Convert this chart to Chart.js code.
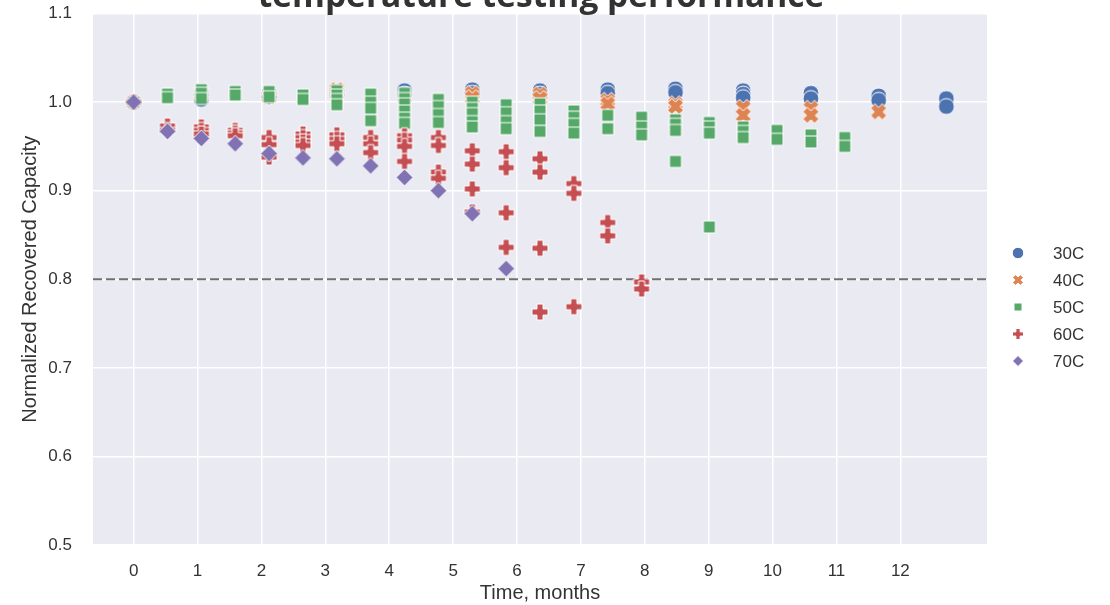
<!DOCTYPE html>
<html>
<head>
<meta charset="utf-8">
<script src="https://cdn.jsdelivr.net/npm/chart.js@4.4.1/dist/chart.umd.min.js"></script>
<style>
  html, body { margin: 0; padding: 0; background: #fff; width: 1110px; height: 605px; overflow: hidden; }
  #wrap { position: relative; width: 1110px; height: 605px; }
  #chart { position: absolute; left: 0; top: 0; }
  #title {
    position: absolute; left: 0; top: -22px; width: 1082px;
    text-align: center; white-space: nowrap;
    font: 700 33.5px 'Open Sans', sans-serif; line-height: 33.5px; color: #333;
  }
</style>
</head>
<body>
<div id="wrap">
  <canvas id="chart" width="1110" height="605"></canvas>
  <div id="title">temperature testing performance</div>
</div>
<script>
// ══════════════════════════════════════════
// Normalized recovered capacity vs time, per test temperature
// ══════════════════════════════════════════

const SERIES_LABELS = ['30C', '40C', '50C', '60C', '70C'];
const X_TICKS = [0, 1, 2, 3, 4, 5, 6, 7, 8, 9, 10, 11, 12];
const Y_TICKS = [0.5, 0.6, 0.7, 0.8, 0.9, 1.0, 1.1];
const THRESHOLD = 0.8;

// 30C
const T30 = [0, 1.06, 1.06, 2.12, 2.12, 3.18, 3.18, 4.24, 4.24, 5.30, 5.30, 6.36, 6.36, 7.42, 7.42,
             8.48, 8.48, 9.54, 9.54, 9.54, 10.60, 10.60, 11.66, 11.66, 12.72, 12.72];
const V30 = [1.000, 1.008, 1.003, 1.010, 1.006, 1.012, 1.008, 1.013, 1.009, 1.014, 1.010, 1.013, 1.009, 1.014, 1.010,
             1.015, 1.011, 1.013, 1.009, 1.005, 1.010, 1.004, 1.007, 1.002, 1.004, 0.995];

// 40C
const T40 = [0, 1.06, 2.12, 3.18, 3.18, 4.24, 5.30, 5.30, 6.36, 6.36, 7.42, 7.42,
             8.48, 8.48, 9.54, 9.54, 10.60, 10.60, 11.66];
const V40 = [1.000, 1.008, 1.006, 1.014, 1.010, 1.006, 1.010, 1.005, 1.009, 1.004, 1.002, 0.998,
             0.998, 0.995, 0.994, 0.985, 0.993, 0.985, 0.989];

// 50C
const T50 = [0, 0.53, 0.53, 1.06, 1.06, 1.06, 1.59, 1.59, 2.12, 2.12, 2.65, 2.65,
             3.18, 3.18, 3.18, 3.18, 3.71, 3.71, 3.71, 3.71,
             4.24, 4.24, 4.24, 4.24, 4.24, 4.24, 4.77, 4.77, 4.77, 4.77,
             5.30, 5.30, 5.30, 5.30, 5.30, 5.83, 5.83, 5.83, 5.83,
             6.36, 6.36, 6.36, 6.36, 6.89, 6.89, 6.89, 6.89,
             7.42, 7.42, 7.95, 7.95, 7.95, 8.48, 8.48, 8.48, 8.48,
             9.01, 9.01, 9.01, 9.01, 9.54, 9.54, 9.54, 10.07, 10.07, 10.60, 10.60, 11.13, 11.13];
const V50 = [1.000, 1.009, 1.005, 1.014, 1.010, 1.004, 1.012, 1.008, 1.012, 1.006, 1.008, 1.003,
             1.013, 1.008, 1.003, 0.997, 1.009, 1.000, 0.993, 0.979,
             1.010, 1.004, 0.998, 0.990, 0.982, 0.976, 1.003, 0.995, 0.986, 0.977,
             1.000, 0.993, 0.987, 0.978, 0.972, 0.997, 0.988, 0.978, 0.970,
             0.998, 0.990, 0.980, 0.967, 0.990, 0.983, 0.975, 0.965,
             0.985, 0.970, 0.983, 0.972, 0.963, 0.980, 0.975, 0.968, 0.933,
             0.977, 0.972, 0.965, 0.859, 0.972, 0.967, 0.960, 0.968, 0.958, 0.963, 0.955, 0.960, 0.950];

// 60C
const T60 = [0, 0.53, 0.53, 1.06, 1.06, 1.06, 1.59, 1.59, 1.59, 2.12, 2.12, 2.12,
             2.65, 2.65, 2.65, 2.65, 3.18, 3.18, 3.18, 3.71, 3.71, 3.71,
             4.24, 4.24, 4.24, 4.24, 4.77, 4.77, 4.77, 4.77,
             5.30, 5.30, 5.30, 5.30, 5.83, 5.83, 5.83, 5.83, 6.36, 6.36, 6.36, 6.36,
             6.89, 6.89, 6.89, 7.42, 7.42, 7.95, 7.95];
const V60 = [1.000, 0.973, 0.968, 0.972, 0.968, 0.964, 0.968, 0.965, 0.962, 0.960, 0.952, 0.938,
             0.964, 0.960, 0.955, 0.951, 0.963, 0.958, 0.953, 0.960, 0.953, 0.943,
             0.962, 0.957, 0.950, 0.933, 0.960, 0.951, 0.921, 0.914,
             0.945, 0.930, 0.902, 0.876, 0.944, 0.926, 0.875, 0.836, 0.936, 0.921, 0.835, 0.763,
             0.908, 0.897, 0.769, 0.864, 0.849, 0.797, 0.789];

// 70C
const T70 = [0, 0.53, 1.06, 1.59, 2.12, 2.65, 3.18, 3.71, 4.24, 4.77, 5.30, 5.83];
const V70 = [1.000, 0.967, 0.959, 0.953, 0.942, 0.937, 0.936, 0.928, 0.915, 0.900, 0.874, 0.812];

// seaborn "deep" palette
const COLORS = ['#4C72B0', '#DD8452', '#55A868', '#C44E52', '#8172B3'];
const SHAPES = ['circle', 'x', 'square', 'plus', 'diamond'];
const PLOT_SIZES = [16, 16.5, 12, 16, 17];
const LEGEND_SIZES = [11.5, 11, 8, 11, 11];

const FONT = "'Liberation Sans', Arial, sans-serif";
const TEXT = '#333333';

// ── marker drawing (filled, white edge like seaborn) ──
function markerPath(ctx, shape, s) {
    const h = s / 2;
    ctx.beginPath();
    if (shape === 'circle') {
        ctx.arc(0, 0, h, 0, Math.PI * 2);
    } else if (shape === 'square') {
        ctx.rect(-h, -h, s, s);
    } else if (shape === 'diamond') {
        ctx.moveTo(0, -h); ctx.lineTo(h, 0); ctx.lineTo(0, h); ctx.lineTo(-h, 0); ctx.closePath();
    } else {
        const t = s * 0.19;
        const pts = [[-t, -h], [t, -h], [t, -t], [h, -t], [h, t], [t, t], [t, h], [-t, h], [-t, t], [-h, t], [-h, -t], [-t, -t]];
        const a = shape === 'x' ? Math.PI / 4 : 0;
        pts.forEach(([px, py], i) => {
            const rx = px * Math.cos(a) - py * Math.sin(a);
            const ry = px * Math.sin(a) + py * Math.cos(a);
            if (i) ctx.lineTo(rx, ry); else ctx.moveTo(rx, ry);
        });
        ctx.closePath();
    }
}

function drawMarker(ctx, shape, x, y, s, color) {
    ctx.save();
    ctx.translate(x, y);
    markerPath(ctx, shape, s);
    ctx.fillStyle = color;
    ctx.fill();
    ctx.lineWidth = 1;
    ctx.strokeStyle = '#ffffff';
    ctx.stroke();
    ctx.restore();
}

function markerImage(shape, s, color) {
    const c = document.createElement('canvas');
    const n = Math.ceil(s + 4);
    c.width = n; c.height = n;
    drawMarker(c.getContext('2d'), shape, n / 2, n / 2, s, color);
    return c;
}

const zip = (xs, ys) => xs.map((x, i) => ({ x, y: ys[i] }));
const SERIES = [[T30, V30], [T40, V40], [T50, V50], [T60, V60], [T70, V70]];

const datasets = SERIES.map(([xs, ys], i) => ({
    label: SERIES_LABELS[i],
    data: zip(xs, ys),
    pointStyle: markerImage(SHAPES[i], PLOT_SIZES[i], COLORS[i]),
    pointRadius: 8,
    backgroundColor: COLORS[i],
    borderColor: '#fff',
    order: SERIES.length - i,   // later series drawn on top
}));

// ── plugins ──
const plotBackground = {
    id: 'plotBackground',
    beforeDraw(chart) {
        const { ctx, chartArea: a } = chart;
        ctx.save();
        ctx.fillStyle = '#EAEAF2';
        ctx.fillRect(a.left, a.top, a.right - a.left, a.bottom - a.top);
        ctx.restore();
    }
};

const thresholdLine = {
    id: 'thresholdLine',
    beforeDatasetsDraw(chart) {
        const { ctx, chartArea: a, scales } = chart;
        const py = scales.y.getPixelForValue(THRESHOLD);
        ctx.save();
        ctx.strokeStyle = '#707070';
        ctx.lineWidth = 2;
        ctx.setLineDash([9, 4]);
        ctx.beginPath();
        ctx.moveTo(a.left, py);
        ctx.lineTo(a.right, py);
        ctx.stroke();
        ctx.restore();
    }
};

const sideLegend = {
    id: 'sideLegend',
    afterDraw(chart) {
        const { ctx } = chart;
        ctx.save();
        ctx.font = '17px ' + FONT;
        ctx.textBaseline = 'middle';
        ctx.textAlign = 'left';
        chart.data.datasets.forEach((ds, i) => {
            const y = 253 + i * 27;
            drawMarker(ctx, SHAPES[i], 1018, y, LEGEND_SIZES[i], COLORS[i]);
            ctx.fillStyle = TEXT;
            ctx.fillText(ds.label, 1053, y + 1);
        });
        ctx.restore();
    }
};

// axis boxes are pinned so the plot area lands where the reference has it
function pinPadding(s) {
    s.paddingTop = 0; s.paddingBottom = 0; s.paddingLeft = 0; s.paddingRight = 0;
}

new Chart(document.getElementById('chart').getContext('2d'), {
    type: 'scatter',
    data: { datasets },
    options: {
        responsive: false,
        animation: false,
        events: [],
        layout: { autoPadding: false, padding: { top: 13.5, right: 123, left: 0, bottom: 0 } },
        plugins: {
            legend: { display: false },
            tooltip: { enabled: false },
        },
        scales: {
            x: {
                type: 'linear',
                min: -0.636,
                max: 13.356,
                afterBuildTicks: (s) => { s.ticks = X_TICKS.map(v => ({ value: v })); },
                afterFit: (s) => { s.height = 60; pinPadding(s); },
                grid: { color: '#ffffff', lineWidth: 1.5, drawTicks: false },
                border: { display: false },
                ticks: { color: TEXT, font: { size: 17, family: FONT }, padding: 16, maxRotation: 0 },
                title: { display: true, text: 'Time, months', color: TEXT, font: { size: 20, family: FONT }, padding: { top: 0, bottom: 0 } },
            },
            y: {
                min: 0.5,
                max: 1.1,
                afterBuildTicks: (s) => { s.ticks = Y_TICKS.map(v => ({ value: v })); },
                afterFit: (s) => { s.width = 93; pinPadding(s); },
                grid: { color: '#ffffff', lineWidth: 1.5, drawTicks: false },
                border: { display: false },
                ticks: { color: TEXT, font: { size: 17, family: FONT }, padding: 21, callback: (v) => v.toFixed(1) },
                title: { display: true, text: 'Normalized Recovered Capacity', color: TEXT, font: { size: 20, family: FONT }, padding: { top: 18, bottom: 0 } },
            }
        }
    },
    plugins: [plotBackground, thresholdLine, sideLegend]
});
</script>
</body>
</html>
